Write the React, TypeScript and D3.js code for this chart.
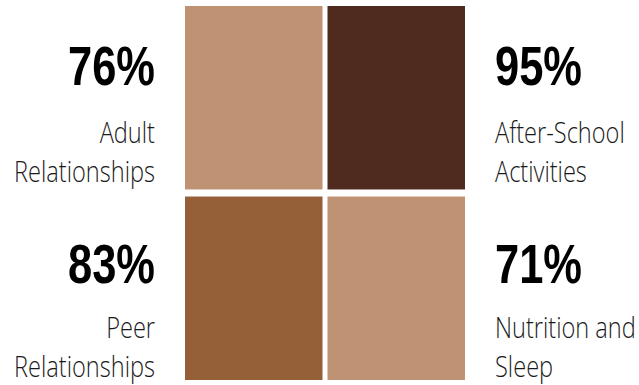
import React, { useLayoutEffect, useRef, useState } from "react";
import * as d3 from "d3";

const categories = ["Adult Relationships", "After-School Activities", "Peer Relationships", "Nutrition and Sleep"];
const labelLines = [["Adult", "Relationships"], ["After-School", "Activities"], ["Peer", "Relationships"], ["Nutrition and", "Sleep"]];
const values = [76, 95, 83, 71];
const colorThresholds = [80, 90];
const colorRange = ["#BF9274", "#955F37", "#4F2B1F"];

const W = 639;
const H = 385;

export default function App() {
  const measureLabel = useRef<SVGTextElement>(null);
  const measurePct = useRef<SVGTextElement>(null);
  const [kLabel, setKLabel] = useState(0.75);
  const [kPct, setKPct] = useState(0.8);

  const pctFont = "'Liberation Sans', Arial, sans-serif";
  const labelFont = "'Open Sans', 'Lato', sans-serif";
  const pctSize = 56;
  const labelSize = 30;
  const pctBaseline = [85, 283];
  const labelBaseline = [143, 338];
  const lineGap = 39;
  const textX = [155, 495];

  useLayoutEffect(() => {
    if (measureLabel.current) {
      const w = measureLabel.current.getComputedTextLength();
      if (w > 0) setKLabel(141 / w);
    }
    if (measurePct.current) {
      const w = measurePct.current.getComputedTextLength();
      if (w > 0) setKPct(87 / w);
    }
  }, []);

  const x = d3.scaleBand<number>().domain([0, 1]).range([185, 465]).paddingInner(0.035);
  const y = d3.scaleBand<number>().domain([0, 1]).range([6, 380]).paddingInner(0.037);
  const color = d3.scaleThreshold<number, string>().domain(colorThresholds).range(colorRange);

  return (
    <svg width={W} height={H} style={{ position: "absolute", left: 0, top: 0, background: "#fff" }}>
      <g visibility="hidden">
        <text ref={measureLabel} fontFamily={labelFont} fontWeight={300} fontSize={labelSize}>Relationships</text>
        <text ref={measurePct} fontFamily={pctFont} fontWeight={700} fontSize={pctSize}>76%</text>
      </g>
      {categories.map((c, i) => {
        const col = i % 2;
        const row = Math.floor(i / 2);
        const anchor = col === 0 ? "end" : "start";
        const tx = textX[col];
        return (
          <g key={c}>
            <rect
              x={x(col)}
              y={y(row)}
              width={x.bandwidth()}
              height={y.bandwidth()}
              fill={color(values[i])}
            />
            <g transform={`translate(${tx},${pctBaseline[row]}) scale(${kPct},1)`}>
              <text textAnchor={anchor} fontFamily={pctFont} fontWeight={700} fontSize={pctSize} fill="#000">
                {values[i]}%
              </text>
            </g>
            <g transform={`translate(${tx},${labelBaseline[row]}) scale(${kLabel},1)`}>
              <text textAnchor={anchor} fontFamily={labelFont} fontWeight={300} fontSize={labelSize} fill="#1a1a1a">
                {labelLines[i].map((line, j) => (
                  <tspan key={j} x={0} dy={j === 0 ? 0 : lineGap}>
                    {line}
                  </tspan>
                ))}
              </text>
            </g>
          </g>
        );
      })}
    </svg>
  );
}
